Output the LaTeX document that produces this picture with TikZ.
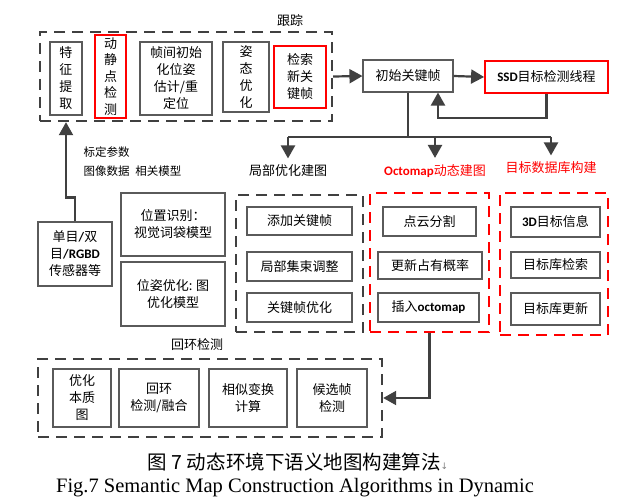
\documentclass[tikz,border=0pt]{standalone}
\usepackage{fontspec}
\setmainfont{Noto Sans CJK SC}
\newfontfamily\lat{Carlito}
\newfontfamily\capen{Liberation Serif}
\newfontfamily\sym{DejaVu Sans}
\usetikzlibrary{arrows.meta,positioning,calc}
\definecolor{linegray}{HTML}{404040}
\definecolor{boxgray}{HTML}{5A5A5A}
\definecolor{hotred}{HTML}{FF0000}

\begin{document}
\begin{tikzpicture}[x=1pt,y=1pt,>={Triangle[width=14pt,length=13pt]},
  box/.style={draw=boxgray,line width=1.1pt,align=center,inner sep=1pt,font=\fontsize{13}{17}\selectfont},
  redbox/.style={box,draw=hotred,line width=1.8pt},
  grp/.style={draw=linegray,line width=2.4pt,dash pattern=on 11pt off 7pt},
  redgrp/.style={grp,draw=hotred},
  flow/.style={draw=linegray,line width=2.2pt},
  lbl/.style={font=\fontsize{13}{17}\selectfont}]
\useasboundingbox (0,0) rectangle (622,-503);
% tracking
\node[grp,minimum width=292,minimum height=89] (track) at (186,-76.5) {};
\node[lbl] (trackL) at (290,-21) {跟踪};
\node[box,minimum width=32,minimum height=73] (tz1) at (66,-78.5) {特\\征\\提\\取};
\node[redbox,minimum width=31,minimum height=83,font=\fontsize{13}{16.5}\selectfont] (tz2) at (110.5,-76.5) {动\\静\\点\\检\\测};
\node[box,minimum width=72,minimum height=73] (tz3) at (176,-78.5) {帧间初始\\化位姿\\估计/重\\定位};
\node[box,minimum width=46,minimum height=70] (tz4) at (246,-77) {姿\\态\\优\\化};
\node[redbox,minimum width=52,minimum height=62] (tz5) at (300,-77) {检索\\新关\\键帧};
\node[box,minimum width=90,minimum height=32] (kf) at (408,-76) {初始关键帧};
\node[redbox,minimum width=123,minimum height=32] (ssd) at (546.5,-77) {{\lat\bfseries SSD}目标检测线程};
\draw[flow,->] (track.east) -- (kf.west);
\draw[flow,->] (kf.east) -- (ssd.west);
\draw[flow,->] (ssd.south) -- ++(0,-24) -| ([xshift=30pt]kf.south);
% three branches
\node[lbl] (lbLocal) at (288,-171) {局部优化建图};
\node[lbl,text=hotred] (lbOcto) at (435,-171) {{\lat\bfseries Octomap}动态建图};
\node[lbl,text=hotred] (lbObj) at (551,-168) {目标数据库构建};
\coordinate (bus) at (409,-137);
\draw[flow] (kf.south) -- (kf.south |- bus);
\draw[flow] (lbLocal.north |- bus) -- (lbObj.north |- bus);
\foreach \b in {lbLocal,lbOcto,lbObj}{\draw[flow,->] (\b.north |- bus) -- ([yshift=3pt]\b.north);}
% sensor and models
\node[box,minimum width=74,minimum height=64] (sens) at (75,-254) {单目{\lat\bfseries /}双\\目{\lat\bfseries /RGBD}\\传感器等};
\draw[flow,->] (sens.north) -- ++(0,24) -| (tz1.south |- track.south);
\node[anchor=west,font=\fontsize{11.5}{15}\selectfont] (lbCalib) at (80,-152) {标定参数};
\node[anchor=west,font=\fontsize{11.5}{15}\selectfont] (lbImg) at (80,-171) {图像数据\enspace 相关模型};
\node[box,minimum width=104,minimum height=63] (pr) at (173,-224.5) {位置识别：\\视觉词袋模型};
\node[box,minimum width=104,minimum height=64] (po) at (173,-294) {位姿优化: 图\\优化模型};
% local mapping, octomap, object database
\node[grp,minimum width=127,minimum height=137] (local) at (299.5,-263.5) {};
\node[redgrp,minimum width=119,minimum height=139] (octo) at (429.5,-262.5) {};
\node[redgrp,minimum width=108,minimum height=142] (obj) at (554,-264) {};
\node[box,minimum width=105,minimum height=28] (lc1) at (299.5,-221) {添加关键帧};
\node[box,minimum width=105,minimum height=29] (lc2) at (299.5,-266.5) {局部集束调整};
\node[box,minimum width=105,minimum height=29] (lc3) at (299.5,-307.5) {关键帧优化};
\node[box,minimum width=93,minimum height=29] (oc1) at (429.5,-221.5) {点云分割};
\node[box,minimum width=104,minimum height=27] (oc2) at (430,-265.5) {更新占有概率};
\node[box,minimum width=101,minimum height=29] (oc3) at (428.5,-307.5) {插入{\lat\bfseries octomap}};
\node[box,minimum width=89,minimum height=30] (ob1) at (555.5,-222) {{\lat\bfseries 3D}目标信息};
\node[box,minimum width=89,minimum height=26] (ob2) at (555.5,-265) {目标库检索};
\node[box,minimum width=89,minimum height=32] (ob3) at (555.5,-309) {目标库更新};
% loop closing
\node[grp,minimum width=344,minimum height=78] (loop) at (210,-398) {};
\node[lbl] (loopL) at (197,-345) {回环检测};
\node[box,minimum width=58,minimum height=58] (lp1) at (82,-398) {优化\\本质\\图};
\node[box,minimum width=80,minimum height=58] (lp2) at (159,-398) {回环\\检测/融合};
\node[box,minimum width=78,minimum height=58] (lp3) at (248,-398) {相似变换\\计算};
\node[box,minimum width=70,minimum height=58] (lp4) at (332,-398) {候选帧\\检测};
\draw[flow,->] (octo.south) |- (loop.east);
% caption
\node[font=\fontsize{19.5}{22}\selectfont] (cap1) at (298,-462) {图 7 动态环境下语义地图构建算法{\sym\fontsize{9}{10}\selectfont\color{gray}↓}};
\node[font=\capen\fontsize{20.5}{23}\selectfont] (cap2) at (295,-488) {Fig.7 Semantic Map Construction Algorithms in Dynamic};
\end{tikzpicture}
\end{document}
